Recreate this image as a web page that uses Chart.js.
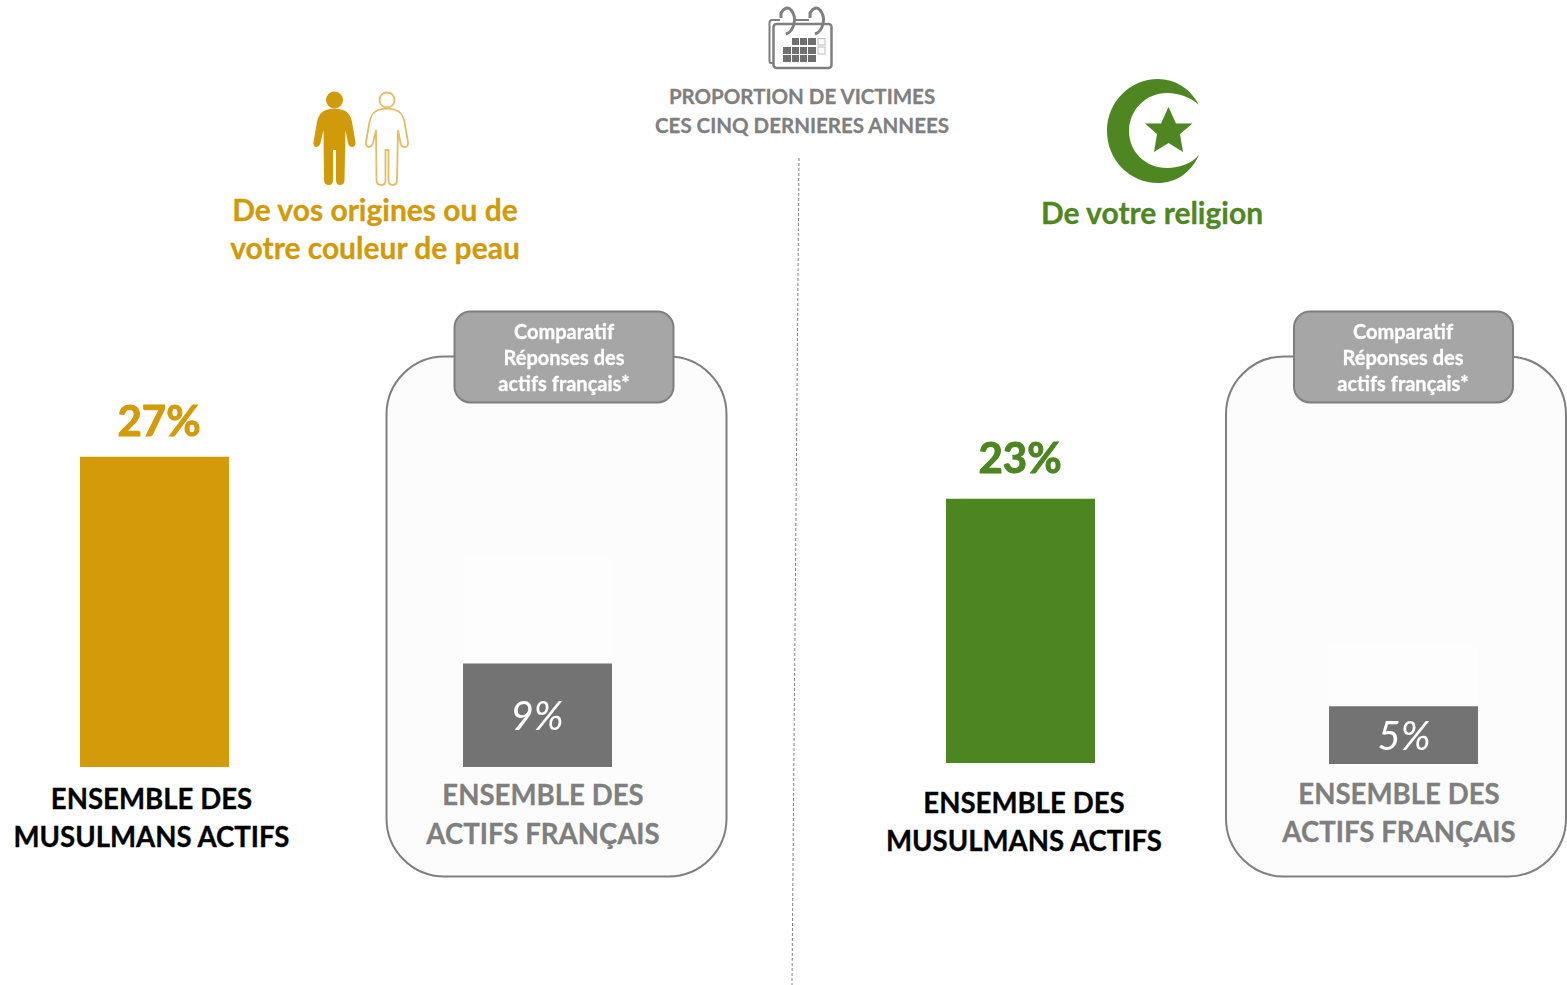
<!DOCTYPE html>
<html lang="fr">
<head>
<meta charset="utf-8">
<title>Proportion de victimes</title>
<script src="https://cdn.jsdelivr.net/npm/chart.js@4"></script>
<style>
    html, body { margin: 0; padding: 0; background: #fff; }
    #page { position: relative; width: 1567px; height: 985px; overflow: hidden; font-family: Lato, sans-serif; font-weight: 700; }
    #decor { position: absolute; left: 0; top: 0; }
    canvas { position: absolute; }
    .txt { position: absolute; white-space: nowrap; transform: translate(-50%, -50%); line-height: 1; -webkit-text-stroke: 0.3px currentColor; }
    .head { font-size: 20.5px; color: #7f7f7f; }
    .title { font-size: 30px; }
    .tab { font-size: 20px; color: #fff; }
    .cat { font-size: 27.6px; }
</style>
</head>
<body>
<div id="page">
    <svg id="decor" width="1567" height="985" viewBox="0 0 1567 985">
        <!-- divider -->
        <line x1="799" y1="158" x2="792" y2="985" stroke="#7f7f7f" stroke-width="1" stroke-dasharray="3 2"/>

        <!-- panels -->
        <rect x="386.5" y="356.5" width="340" height="520" rx="58" fill="#fcfcfc" stroke="#7f7f7f" stroke-width="2"/>
        <rect x="1226" y="356.5" width="340" height="520" rx="58" fill="#fcfcfc" stroke="#7f7f7f" stroke-width="2"/>
        <rect x="454.5" y="311.5" width="219" height="91" rx="16" fill="#a6a6a6" stroke="#7f7f7f" stroke-width="2"/>
        <rect x="1294" y="311.5" width="219" height="91" rx="16" fill="#a6a6a6" stroke="#7f7f7f" stroke-width="2"/>

        <!-- calendar icon -->
        <g fill="none" stroke="#7f7f7f" stroke-width="2">
            <path d="M773 63 H771 Q769.500 63 769.500 61 V23 Q769.500 20 772 20 H780"/>
            <path d="M795 20 H809 M795 24 H809"/>
            <rect x="773.500" y="24" width="58" height="44" rx="3" stroke-width="2.500"/>
            <path d="M781 18 V13 Q786 5 791 10 Q796 16 794 24 Q792 32 786 34" stroke-width="3"/>
            <path d="M810 18 V13 Q815 5 820 10 Q825 16 823 24 Q821 32 815 34" stroke-width="3"/>
        </g>
        <g fill="#6f6f6f">
            <rect x="792" y="38" width="7" height="7"/><rect x="800" y="38" width="7" height="7"/><rect x="808" y="38" width="8" height="7"/>
            <rect x="783" y="47" width="8" height="7"/><rect x="792" y="47" width="7" height="7"/><rect x="800" y="47" width="7" height="7"/><rect x="808" y="47" width="8" height="7"/>
            <rect x="783" y="55" width="8" height="7"/><rect x="792" y="55" width="7" height="7"/><rect x="800" y="55" width="7" height="7"/><rect x="808" y="55" width="8" height="7"/>
        </g>
        <g fill="none" stroke="#bdbdbd" stroke-width="1">
            <rect x="818" y="38.500" width="7" height="6.500"/><rect x="818" y="47" width="7" height="7"/>
        </g>

        <!-- people icon -->
        <circle cx="334.500" cy="100" r="8.500" fill="#d19a0a"/>
        <path id="person" fill="#d19a0a" d="M326 110 Q334 107 343 110 Q350 112 352 122 L355.500 142 Q356 147 352 147 Q349 147 348 143 L345.500 130 L344.500 180 Q344.500 185 340 185 Q336 185 336 180 L336 150 L333 150 L333 180 Q333 185 329 185 Q324 185 324 180 L323.500 130 L320.500 143 Q319 147 316.500 147 Q313 147 313.500 142 L317 122 Q319 112 326 110 Z"/>
        <circle cx="387" cy="100" r="7.500" fill="none" stroke="#e2bd66" stroke-width="1.800"/>
        <path fill="none" stroke="#e2bd66" stroke-width="1.800" transform="translate(52.500 0)" d="M326 110 Q334 107 343 110 Q350 112 352 122 L355.500 142 Q356 147 352 147 Q349 147 348 143 L345.500 130 L344.500 180 Q344.500 185 340 185 Q336 185 336 180 L336 150 L333 150 L333 180 Q333 185 329 185 Q324 185 324 180 L323.500 130 L320.500 143 Q319 147 316.500 147 Q313 147 313.500 142 L317 122 Q319 112 326 110 Z"/>

        <!-- crescent and star -->
        <path fill="#4e8622" d="M1199 105 C1190 88 1175 79 1158 79 C1130 79 1107 102 1107 131 C1107 160 1130 183 1158 183 C1175 183 1190 174 1199 155 C1192 163 1180 168 1167 168 C1146 168 1129 152 1129 131 C1129 110 1146 93 1167 93 C1180 93 1192 98 1199 105 Z"/>
        <path fill="#4e8622" d="M1168.500 107 L1176 123.500 L1192.500 123.500 L1180 134 L1183 152 L1168.500 143 L1154 152 L1157 134 L1145 123.500 L1161 123.500 Z"/>
    </svg>

    <canvas id="bar-muslim-origin"></canvas>
    <canvas id="bar-french-origin"></canvas>
    <canvas id="bar-muslim-religion"></canvas>
    <canvas id="bar-french-religion"></canvas>
</div>

<script>
// values, in percent
const barNames = ['Musulmans origines', 'Français origines', 'Musulmans religion', 'Français religion'];
const barValues = [27, 9, 23, 5];
const ghostValues = [0, 9.3, 0, 5.2]; // faint block sitting on top of the grey bars
const barColors = ['#d39a0a', '#737373', '#4d8521', '#737373'];

const headLines = ['PROPORTION DE VICTIMES', 'CES CINQ DERNIERES ANNEES'];
const originLines = ['De vos origines ou de', 'votre couleur de peau'];
const religionLines = ['De votre religion'];
const tabLines = ['Comparatif', 'Réponses des', 'actifs français*'];
const muslimLines = ['ENSEMBLE DES', 'MUSULMANS ACTIFS'];
const frenchLines = ['ENSEMBLE DES', 'ACTIFS FRANÇAIS'];

const PX_PER_UNIT = 11.47;
const AXIS_MAX = 40;
const BAR_WIDTH = 149;

const page = document.getElementById('page');

function addLines(lines, cx, firstY, step, cls, color) {
    lines.forEach((line, i) => {
        const el = document.createElement('div');
        el.className = 'txt ' + cls;
        el.textContent = line;
        el.style.left = cx + 'px';
        el.style.top = (firstY + i * step) + 'px';
        if (color) el.style.color = color;
        page.appendChild(el);
    });
}

addLines(headLines, 802, 96, 29, 'head');
addLines(originLines, 375, 209, 38, 'title', '#d19a0a');
addLines(religionLines, 1152, 212, 38, 'title', '#4e8622');
addLines(tabLines, 564, 330.5, 26, 'tab');
addLines(tabLines, 1403, 330.5, 26, 'tab');
addLines(muslimLines, 151.5, 799, 38, 'cat', '#000');
addLines(frenchLines, 543, 795, 38.5, 'cat', '#7f7f7f');
addLines(muslimLines, 1024, 803, 38, 'cat', '#000');
addLines(frenchLines, 1399, 794, 38, 'cat', '#7f7f7f');

// draws the percent on or above the bar
const valueLabel = {
    id: 'valueLabel',
    afterDatasetsDraw(chart, args, opts) {
        const bar = chart.getDatasetMeta(0).data[0];
        const ctx = chart.ctx;
        const text = barValues[opts.index] + '%';
        ctx.save();
        ctx.font = opts.font;
        ctx.fillStyle = opts.color;
        ctx.strokeStyle = opts.color;
        ctx.lineWidth = opts.heavy;
        ctx.textAlign = 'center';
        ctx.textBaseline = 'middle';
        ctx.fillText(text, bar.x + opts.dx, bar.y + opts.dy);
        if (opts.heavy) ctx.strokeText(text, bar.x + opts.dx, bar.y + opts.dy);
        ctx.restore();
    }
};

function drawBar(index, canvasId, left, baseline, label) {
    const canvas = document.getElementById(canvasId);
    const height = Math.round(AXIS_MAX * PX_PER_UNIT);
    canvas.width = BAR_WIDTH;
    canvas.height = height;
    canvas.style.left = left + 'px';
    canvas.style.top = (baseline - height) + 'px';

    new Chart(canvas.getContext('2d'), {
        type: 'bar',
        data: {
            labels: [barNames[index]],
            datasets: [
                { data: [barValues[index]], backgroundColor: barColors[index], barPercentage: 1, categoryPercentage: 1 },
                { data: [ghostValues[index]], backgroundColor: '#fdfdfd', barPercentage: 1, categoryPercentage: 1 }
            ]
        },
        options: {
            responsive: false,
            animation: false,
            layout: { padding: 0 },
            scales: {
                x: { stacked: true, display: false },
                y: { stacked: true, display: false, min: 0, max: AXIS_MAX }
            },
            plugins: {
                legend: { display: false },
                tooltip: { enabled: false },
                valueLabel: Object.assign({ index }, label)
            }
        },
        plugins: [valueLabel]
    });
}

const bigFont = 'bold 42px Lato';
const inFont = 'italic 40px Lato';

drawBar(0, 'bar-muslim-origin', 80, 767, { font: bigFont, color: '#d39a0a', heavy: 1, dx: 4.5, dy: -34.5 });
drawBar(1, 'bar-french-origin', 463, 767, { font: inFont, color: '#fff', heavy: 0, dx: -0.5, dy: 53 });
drawBar(2, 'bar-muslim-religion', 946, 763, { font: bigFont, color: '#4d8521', heavy: 1, dx: -0.5, dy: -39.5 });
drawBar(3, 'bar-french-religion', 1329, 764, { font: inFont, color: '#fff', heavy: 0, dx: 0.5, dy: 30 });
</script>
</body>
</html>
